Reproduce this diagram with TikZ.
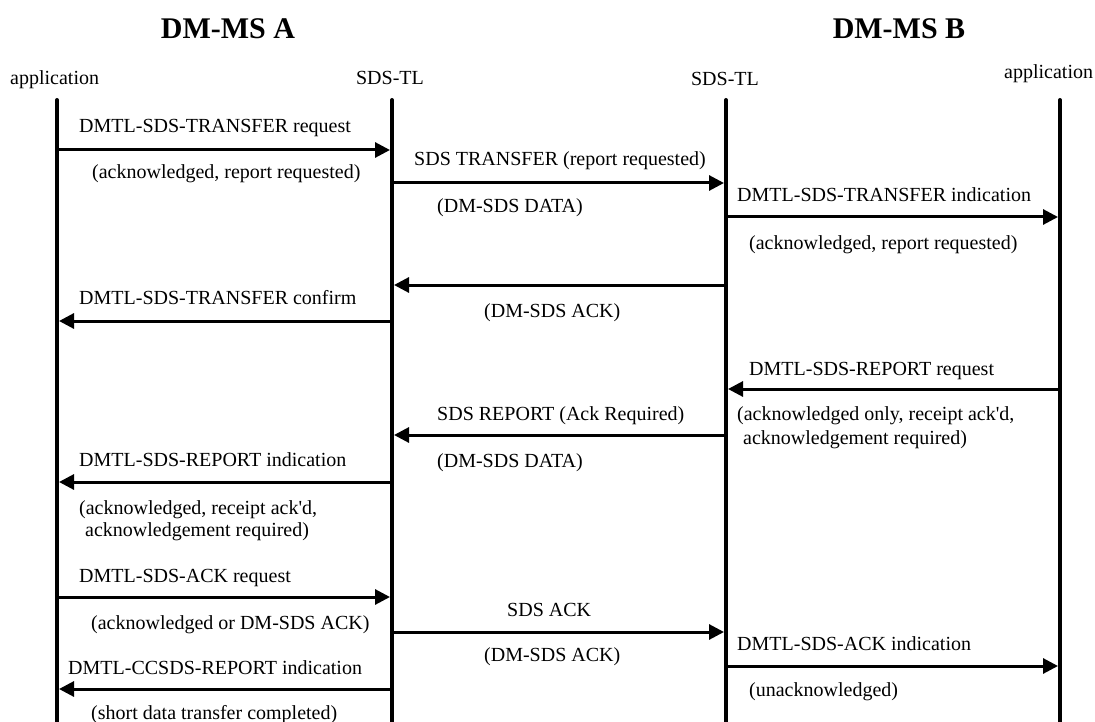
\documentclass[tikz,border=0pt]{standalone}
\usepackage{fontspec}
\setmainfont{Liberation Serif}
\usetikzlibrary{arrows.meta}
\begin{document}
\begin{tikzpicture}[x=1pt,y=-1pt,
  lifeline/.style={line width=4pt, line cap=round},
  msg/.style={line width=3pt, -{Triangle[length=15pt,width=15pt]}, shorten >=2pt},
  lbl/.style={anchor=base west, inner sep=0pt, font=\fontsize{20}{24}\selectfont},
  hdr/.style={anchor=base, inner sep=0pt, font=\fontsize{20}{24}\selectfont},
  ttl/.style={anchor=base, inner sep=0pt, font=\fontsize{30}{36}\selectfont\bfseries}]
\useasboundingbox (0,0) rectangle (1095,722);
% titles
\node[ttl] (tA) at (228,39) {DM-MS A};
\node[ttl] (tB) at (899,39) {DM-MS B};
% headers
\node[lbl] (hA1) at (10,85) {application};
\node[hdr] (hA2) at (390,85) {SDS-TL};
\node[hdr] (hB2) at (725,86) {SDS-TL};
\node[lbl] (hB1) at (1004,79) {application};
% lifelines
\coordinate (A1) at (57,100);   \coordinate (A1e) at (57,726);
\coordinate (A2) at (392,100);  \coordinate (A2e) at (392,726);
\coordinate (B2) at (726,100);  \coordinate (B2e) at (726,726);
\coordinate (B1) at (1060,100); \coordinate (B1e) at (1060,726);
\draw[lifeline] (A1) -- (A1e);
\draw[lifeline] (A2) -- (A2e);
\draw[lifeline] (B2) -- (B2e);
\draw[lifeline] (B1) -- (B1e);
% messages
\draw[msg] (A1 |- 0,150) -- (A2 |- 0,150);
\draw[msg] (A2 |- 0,183) -- (B2 |- 0,183);
\draw[msg] (B2 |- 0,217) -- (B1 |- 0,217);
\draw[msg] (B2 |- 0,285) -- (A2 |- 0,285);
\draw[msg] (A2 |- 0,321) -- (A1 |- 0,321);
\draw[msg] (B1 |- 0,389) -- (B2 |- 0,389);
\draw[msg] (B2 |- 0,435) -- (A2 |- 0,435);
\draw[msg] (A2 |- 0,482) -- (A1 |- 0,482);
\draw[msg] (A1 |- 0,597) -- (A2 |- 0,597);
\draw[msg] (A2 |- 0,632) -- (B2 |- 0,632);
\draw[white, line width=1pt] (505,630.7) -- (622,630.7);
\draw[msg] (B2 |- 0,666) -- (B1 |- 0,666);
\draw[msg] (A2 |- 0,689) -- (A1 |- 0,689);
% labels
\node[lbl] (l1a) at (79,133) {DMTL-SDS-TRANSFER request};
\node[lbl] (l1b) at (92,179) {(acknowledged, report requested)};
\node[lbl] (l2a) at (414,166) {SDS TRANSFER (report requested)};
\node[lbl] (l2b) at (437,213) {(DM-SDS DATA)};
\node[lbl] (l3a) at (737,202) {DMTL-SDS-TRANSFER indication};
\node[lbl] (l3b) at (749,249) {(acknowledged, report requested)};
\node[lbl] (l4b) at (484,317) {(DM-SDS ACK)};
\node[lbl] (l5a) at (79,304) {DMTL-SDS-TRANSFER confirm};
\node[lbl] (l6a) at (749,375) {DMTL-SDS-REPORT request};
\node[lbl] (l6b) at (737,420) {(acknowledged only, receipt ack\textquotesingle d,};
\node[lbl] (l6c) at (743,444) {acknowledgement required)};
\node[lbl] (l7a) at (437,420) {SDS REPORT (Ack Required)};
\node[lbl] (l7b) at (437,467) {(DM-SDS DATA)};
\node[lbl] (l8a) at (79,466) {DMTL-SDS-REPORT indication};
\node[lbl] (l8b) at (79,514) {(acknowledged, receipt ack\textquotesingle d,};
\node[lbl] (l8c) at (85,536) {acknowledgement required)};
\node[lbl] (l9a) at (79,582) {DMTL-SDS-ACK request};
\node[lbl] (l9b) at (91,629) {(acknowledged or DM-SDS ACK)};
\node[lbl] (l10a) at (507,616) {SDS ACK};
\node[lbl] (l10b) at (484,661) {(DM-SDS ACK)};
\node[lbl] (l11a) at (737,650) {DMTL-SDS-ACK indication};
\node[lbl] (l11b) at (749,696) {(unacknowledged)};
\node[lbl] (l12a) at (68,674) {DMTL-CCSDS-REPORT indication};
\node[lbl] (l12b) at (91,719) {(short data transfer completed)};
\end{tikzpicture}
\end{document}
